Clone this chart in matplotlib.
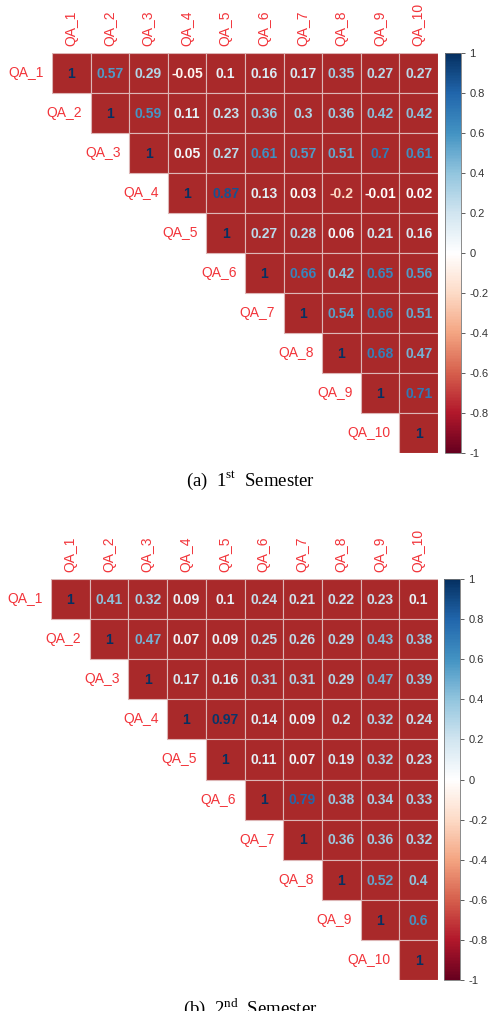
import numpy as np
import matplotlib
matplotlib.use("Agg")
import matplotlib.pyplot as plt
from matplotlib.colors import LinearSegmentedColormap, Normalize
from matplotlib.cm import ScalarMappable
from matplotlib.patches import Rectangle

labels = [f"QA_{i}" for i in range(1, 11)]

# upper triangle rows (diagonal first)
sem1 = [
    [1, 0.57, 0.29, -0.05, 0.1, 0.16, 0.17, 0.35, 0.27, 0.27],
    [1, 0.59, 0.11, 0.23, 0.36, 0.3, 0.36, 0.42, 0.42],
    [1, 0.05, 0.27, 0.61, 0.57, 0.51, 0.7, 0.61],
    [1, 0.87, 0.13, 0.03, -0.2, -0.01, 0.02],
    [1, 0.27, 0.28, 0.06, 0.21, 0.16],
    [1, 0.66, 0.42, 0.65, 0.56],
    [1, 0.54, 0.66, 0.51],
    [1, 0.68, 0.47],
    [1, 0.71],
    [1],
]
sem2 = [
    [1, 0.41, 0.32, 0.09, 0.1, 0.24, 0.21, 0.22, 0.23, 0.1],
    [1, 0.47, 0.07, 0.09, 0.25, 0.26, 0.29, 0.43, 0.38],
    [1, 0.17, 0.16, 0.31, 0.31, 0.29, 0.47, 0.39],
    [1, 0.97, 0.14, 0.09, 0.2, 0.32, 0.24],
    [1, 0.11, 0.07, 0.19, 0.32, 0.23],
    [1, 0.79, 0.38, 0.34, 0.33],
    [1, 0.36, 0.36, 0.32],
    [1, 0.52, 0.4],
    [1, 0.6],
    [1],
]
captions = [r"(a)  1$^{\mathrm{st}}$  Semester", r"(b)  2$^{\mathrm{nd}}$  Semester"]
cbar_ticks = [-1, -0.8, -0.6, -0.4, -0.2, 0, 0.2, 0.4, 0.6, 0.8, 1]

plt.rcParams['font.family'] = ['Liberation Sans', 'DejaVu Sans']
plt.rcParams['mathtext.fontset'] = 'custom'
plt.rcParams['mathtext.rm'] = 'Liberation Serif'

corr_cmap = LinearSegmentedColormap.from_list(
    "corr", ["#67001F", "#B2182B", "#D6604D", "#F4A582", "#FDDBC7", "#FFFFFF",
             "#D1E5F0", "#92C5DE", "#4393C3", "#2166AC", "#053061"])
norm = Normalize(-1, 1)
fill = "#A9292A"
label_red = "#F2343A"
W, H = 488, 1011

fig = plt.figure(figsize=(W / 100, H / 100), dpi=100)


def box(l, t, r, b):
    return [l / W, 1 - b / H, (r - l) / W, (b - t) / H]


def draw(rows, mat_box, cb_box, caption, cap_y):
    n = len(labels)
    ax = fig.add_axes(box(*mat_box))
    for i, row in enumerate(rows):
        for k, v in enumerate(row):
            j = i + k
            ax.add_patch(Rectangle((j, i), 1, 1, facecolor=fill,
                                   edgecolor="#DDB6B6", linewidth=0.8))
            ax.text(j + 0.5, i + 0.52, f"{v:g}", ha="center", va="center",
                    fontsize=10, fontweight="bold", color=corr_cmap(norm(v)))
        ax.text(i - 0.22, i + 0.5, labels[i], ha="right", va="center",
                fontsize=10, color=label_red)
    ax.set_xlim(0, n)
    ax.set_ylim(n, 0)
    ax.xaxis.tick_top()
    ax.set_xticks(np.arange(n) + 0.5)
    ax.set_xticklabels(labels, rotation=90, color=label_red, fontsize=10)
    ax.tick_params(axis="x", length=0, pad=5)
    ax.set_yticks([])
    for s in ax.spines.values():
        s.set_visible(False)

    cax = fig.add_axes(box(*cb_box))
    cb = fig.colorbar(ScalarMappable(norm=norm, cmap=corr_cmap), cax=cax, ticks=cbar_ticks)
    cb.ax.set_yticklabels([f"{t:g}" for t in cbar_ticks])
    cb.ax.tick_params(labelsize=8, length=3, width=0.6, color="#444444",
                      labelcolor="#333333", pad=3)
    cb.outline.set_linewidth(0.6)
    cb.outline.set_edgecolor("#777777")

    fig.text(250 / W, 1 - cap_y / H, caption, ha="center", va="center",
             fontsize=13.5, family="Liberation Serif")


draw(sem1, (52, 53, 438, 453), (445, 53, 461, 453), captions[0], 481)
draw(sem2, (51, 579, 438, 980), (444, 579, 460, 980), captions[1], 1008)

fig.savefig("out.png", dpi=100)
